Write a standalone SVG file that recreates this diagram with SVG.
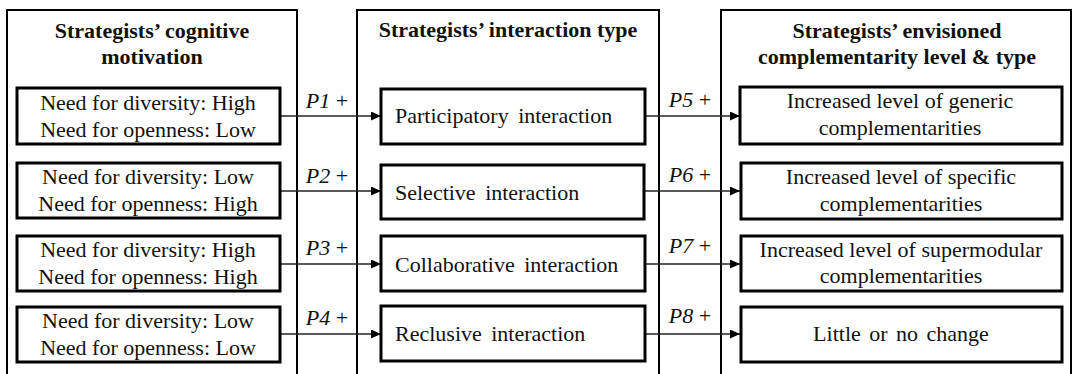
<svg xmlns="http://www.w3.org/2000/svg" width="1076" height="374" viewBox="0 0 1076 374">
<style>
.outer{fill:none;stroke:#000;stroke-width:2}
.inner{fill:#fff;stroke:#000;stroke-width:3}
.t{font-family:'Liberation Serif','DejaVu Serif',serif;font-size:22px;fill:#111}
.h{font-family:'Liberation Serif','DejaVu Serif',serif;font-size:22px;font-weight:bold;fill:#111}
.c{text-anchor:middle}
.conn{stroke:#222;stroke-width:1.3;fill:none}
.it{font-style:italic}
</style>
<defs>
<marker id="arr" markerUnits="userSpaceOnUse" markerWidth="10" markerHeight="10" refX="10" refY="4.5" orient="auto">
<path d="M0,0 L10,4.5 L0,9 z" fill="#000"/>
</marker>
</defs>
<rect width="1076" height="374" fill="#fff"/>

<g id="col-motivation">
<rect class="outer" x="7" y="10" width="290" height="380"/>
<text class="h c" x="152" y="38">Strategists’ cognitive</text>
<text class="h c" x="152" y="64">motivation</text>
</g>
<g id="col-interaction">
<rect class="outer" x="357" y="10" width="302" height="380"/>
<text class="h c" x="508" y="37">Strategists’ interaction type</text>
</g>
<g id="col-complementarity">
<rect class="outer" x="721" y="10" width="350" height="380"/>
<text class="h c" x="897" y="38">Strategists’ envisioned</text>
<text class="h c" x="897" y="64">complementarity level &amp; type</text>
</g>

<g id="connectors">
<line class="conn" x1="280" y1="116" x2="381" y2="116" marker-end="url(#arr)"/>
<line class="conn" x1="280" y1="191" x2="381" y2="191" marker-end="url(#arr)"/>
<line class="conn" x1="280" y1="264" x2="381" y2="264" marker-end="url(#arr)"/>
<line class="conn" x1="280" y1="334" x2="381" y2="334" marker-end="url(#arr)"/>
<line class="conn" x1="645" y1="116" x2="740" y2="116" marker-end="url(#arr)"/>
<line class="conn" x1="645" y1="191" x2="740" y2="191" marker-end="url(#arr)"/>
<line class="conn" x1="645" y1="264" x2="740" y2="264" marker-end="url(#arr)"/>
<line class="conn" x1="645" y1="334" x2="740" y2="334" marker-end="url(#arr)"/>
<text class="t c" x="327" y="108"><tspan class="it">P1</tspan> +</text>
<text class="t c" x="327" y="183"><tspan class="it">P2</tspan> +</text>
<text class="t c" x="327" y="255"><tspan class="it">P3</tspan> +</text>
<text class="t c" x="327" y="325"><tspan class="it">P4</tspan> +</text>
<text class="t c" x="690" y="107"><tspan class="it">P5</tspan> +</text>
<text class="t c" x="690" y="182"><tspan class="it">P6</tspan> +</text>
<text class="t c" x="690" y="253"><tspan class="it">P7</tspan> +</text>
<text class="t c" x="690" y="323"><tspan class="it">P8</tspan> +</text>
</g>

<g id="m1">
<rect class="inner" x="17" y="88" width="263" height="56"/>
<text class="t c" x="148" y="110">Need for diversity: High</text>
<text class="t c" x="148" y="137">Need for openness: Low</text>
</g>
<g id="m2">
<rect class="inner" x="17" y="163" width="263" height="55"/>
<text class="t c" x="148" y="184">Need for diversity: Low</text>
<text class="t c" x="148" y="211">Need for openness: High</text>
</g>
<g id="m3">
<rect class="inner" x="17" y="236" width="263" height="55"/>
<text class="t c" x="148" y="257">Need for diversity: High</text>
<text class="t c" x="148" y="284">Need for openness: High</text>
</g>
<g id="m4">
<rect class="inner" x="17" y="307" width="263" height="55"/>
<text class="t c" x="148" y="328">Need for diversity: Low</text>
<text class="t c" x="148" y="355">Need for openness: Low</text>
</g>

<g id="i1">
<rect class="inner" x="381" y="89" width="264" height="55"/>
<text class="t" x="395" y="123" word-spacing="4">Participatory interaction</text>
</g>
<g id="i2">
<rect class="inner" x="381" y="165" width="263" height="54"/>
<text class="t" x="395" y="200" word-spacing="4">Selective interaction</text>
</g>
<g id="i3">
<rect class="inner" x="381" y="236" width="264" height="55"/>
<text class="t" x="395" y="272" word-spacing="4">Collaborative interaction</text>
</g>
<g id="i4">
<rect class="inner" x="381" y="306" width="264" height="55"/>
<text class="t" x="395" y="341" word-spacing="4">Reclusive interaction</text>
</g>

<g id="c1">
<rect class="inner" x="740" y="87" width="322" height="57"/>
<text class="t c" x="900" y="108">Increased level  of generic</text>
<text class="t c" x="900" y="135">complementarities</text>
</g>
<g id="c2">
<rect class="inner" x="741" y="163" width="321" height="56"/>
<text class="t c" x="901" y="184">Increased level  of specific</text>
<text class="t c" x="901" y="211">complementarities</text>
</g>
<g id="c3">
<rect class="inner" x="741" y="236" width="321" height="55"/>
<text class="t c" x="901" y="257">Increased level  of supermodular</text>
<text class="t c" x="901" y="283">complementarities</text>
</g>
<g id="c4">
<rect class="inner" x="741" y="307" width="321" height="55"/>
<text class="t c" x="901" y="341" word-spacing="3">Little or no change</text>
</g>
</svg>
